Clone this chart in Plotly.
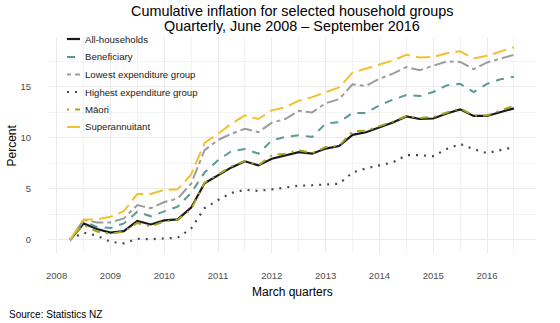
import plotly.graph_objects as go

# Quarterly observations, June 2008 quarter to September 2016 quarter
quarters = [
    "2008Q2", "2008Q3", "2008Q4",
    "2009Q1", "2009Q2", "2009Q3", "2009Q4",
    "2010Q1", "2010Q2", "2010Q3", "2010Q4",
    "2011Q1", "2011Q2", "2011Q3", "2011Q4",
    "2012Q1", "2012Q2", "2012Q3", "2012Q4",
    "2013Q1", "2013Q2", "2013Q3", "2013Q4",
    "2014Q1", "2014Q2", "2014Q3", "2014Q4",
    "2015Q1", "2015Q2", "2015Q3", "2015Q4",
    "2016Q1", "2016Q2", "2016Q3",
]

# Cumulative change since the June 2008 quarter (percent)
all_households = [0.00, 1.60, 1.05, 0.70, 0.85, 1.85, 1.50, 1.90, 2.00, 3.15, 5.55,
                  6.30, 7.10, 7.70, 7.30, 7.95, 8.30, 8.60, 8.45, 8.95, 9.20, 10.30,
                  10.55, 11.05, 11.50, 12.10, 11.85, 11.90, 12.40, 12.80, 12.15, 12.15,
                  12.50, 12.90]
beneficiary = [0.00, 1.80, 1.25, 1.15, 1.60, 2.75, 2.30, 2.80, 3.25, 4.60, 6.60,
               7.80, 8.70, 8.90, 8.45, 9.75, 10.10, 10.25, 10.10, 11.40, 11.55, 12.45,
               12.45, 13.20, 13.75, 14.20, 14.10, 14.50, 15.15, 15.30, 14.50, 15.30,
               15.75, 16.00]
lowest_expenditure = [0.00, 1.95, 1.70, 1.70, 2.10, 3.40, 3.10, 3.70, 4.05, 5.50, 8.80,
                      9.80, 10.40, 10.90, 10.55, 11.50, 11.85, 12.65, 12.50, 13.40, 13.80,
                      15.25, 15.10, 15.80, 16.30, 16.95, 16.65, 17.10, 17.50, 17.45, 16.75,
                      17.40, 17.80, 18.15]
highest_expenditure = [0.00, 0.70, 0.40, -0.20, -0.35, 0.10, 0.05, 0.10, 0.20, 1.10, 3.10,
                       3.90, 4.60, 4.90, 4.80, 4.95, 5.10, 5.30, 5.35, 5.40, 5.50, 6.60,
                       7.00, 7.30, 7.60, 8.30, 8.30, 8.20, 8.90, 9.40, 8.90, 8.50, 8.80,
                       9.10]
maori = [0.00, 1.45, 0.80, 0.60, 0.80, 1.65, 1.30, 1.80, 1.95, 3.00, 5.60,
         6.40, 7.20, 7.75, 7.30, 8.30, 8.45, 8.80, 8.50, 9.10, 9.20, 10.65,
         10.70, 11.15, 11.60, 12.15, 11.95, 12.05, 12.50, 12.90, 12.20, 12.20,
         12.70, 13.15]
superannuitant = [0.00, 2.00, 2.00, 2.25, 2.80, 4.50, 4.50, 4.90, 4.95, 6.40, 9.50,
                  10.40, 11.40, 12.20, 11.85, 12.70, 13.00, 13.65, 14.00, 14.50, 14.95,
                  16.40, 16.80, 17.20, 17.60, 18.15, 17.90, 17.95, 18.30, 18.50, 17.80,
                  18.05, 18.50, 18.90]

year_ticks = [2008, 2009, 2010, 2011, 2012, 2013, 2014, 2015, 2016]
percent_ticks = [0, 5, 10, 15]

series_names = ["All-households", "Beneficiary", "Lowest expenditure group",
                "Highest expenditure group", "M\u0101ori", "Superannuitant"]
series_values = [all_households, beneficiary, lowest_expenditure,
                 highest_expenditure, maori, superannuitant]


def quarter_to_year(q):
    # the March quarter of a year sits on the year's tick
    year, n = q.split("Q")
    return int(year) + (int(n) - 1) / 4


x_years = [quarter_to_year(q) for q in quarters]

styles = [
    dict(color="#1a1a1a", width=2.2, dash="solid"),
    dict(color="#5a9a96", width=2.0, dash="8px,7px"),
    dict(color="#9c9c9c", width=2.0, dash="4px,4px,12px,4px"),
    dict(color="#4a4a4a", width=2.2, dash="2px,6px"),
    dict(color="#a2a31e", width=2.0, dash="2px,6px,8px,6px"),
    dict(color="#f2c12e", width=2.0, dash="14px,6px"),
]

FONT = "Liberation Sans, Arial, Helvetica, sans-serif"
W, H = 560, 323
L, R, T, B = 48, 24, 37, 70
PW, PH = W - L - R, H - T - B


def px_x(x):
    return (x - L) / PW


def px_y(y):
    return (H - B - y) / PH


fig = go.Figure()
for name, vals, st in zip(series_names, series_values, styles):
    fig.add_trace(go.Scatter(
        x=x_years, y=vals, mode="lines", name=name,
        line=dict(color=st["color"], width=st["width"], dash=st["dash"]),
        showlegend=False, hoverinfo="x+y+name",
    ))

grid_major = "#ebebeb"
grid_minor = "#f3f3f3"

fig.update_xaxes(
    range=[2007.84, 2016.91], tickvals=year_ticks, ticktext=[str(y) for y in year_ticks],
    showgrid=True, gridcolor=grid_major, gridwidth=1, zeroline=False, showline=False,
    ticks="outside", ticklen=14, tickcolor="rgba(0,0,0,0)",
    tickfont=dict(family=FONT, size=9.5, color="#4d4d4d"),
    minor=dict(dtick=0.5, tick0=2008, showgrid=True, gridcolor=grid_minor, gridwidth=0.6),
)
fig.update_yaxes(
    range=[-1.3, 19.9], tickvals=percent_ticks, ticktext=[str(v) for v in percent_ticks],
    showgrid=True, gridcolor=grid_major, gridwidth=1, zeroline=False, showline=False,
    ticks="outside", ticklen=14, tickcolor="rgba(0,0,0,0)",
    tickfont=dict(family=FONT, size=9.5, color="#4d4d4d"),
    minor=dict(dtick=2.5, tick0=0, showgrid=True, gridcolor=grid_minor, gridwidth=0.6),
)

annotations = [
    dict(text="Cumulative inflation for selected household groups",
         x=0.5, y=px_y(11.5), font=dict(size=14.4, color="#000000")),
    dict(text="Quarterly, June 2008 \u2013 September 2016",
         x=0.5, y=px_y(25.5), font=dict(size=14.4, color="#000000")),
    dict(text="March quarters", x=0.5, y=px_y(291.5), font=dict(size=12, color="#000000")),
    dict(text="Percent", x=px_x(11), y=px_y(145.5), textangle=-90,
         font=dict(size=12, color="#000000")),
    dict(text="Source: Statistics NZ", x=px_x(7), y=px_y(314.5), xanchor="left",
         font=dict(size=10, color="#000000")),
]

# legend keys and labels inside the panel, top left
shapes = []
legend_rows = [39, 57, 74.5, 92, 109.5, 127]
for name, st, row in zip(series_names, styles, legend_rows):
    shapes.append(dict(type="line", xref="paper", yref="paper",
                       x0=px_x(67), x1=px_x(80), y0=px_y(row), y1=px_y(row),
                       line=dict(color=st["color"], width=st["width"], dash=st["dash"])))
    annotations.append(dict(text=name, x=px_x(83), y=px_y(row), xanchor="left",
                            font=dict(size=9.6, color="#1a1a1a")))

for a in annotations:
    a.setdefault("xref", "paper")
    a.setdefault("yref", "paper")
    a.setdefault("xanchor", "center")
    a.setdefault("yanchor", "middle")
    a["showarrow"] = False
    a["font"]["family"] = FONT

fig.update_layout(
    width=W, height=H,
    margin=dict(l=L, r=R, t=T, b=B, pad=0),
    paper_bgcolor="#ffffff", plot_bgcolor="#ffffff",
    font=dict(family=FONT),
    showlegend=False,
    annotations=annotations,
    shapes=shapes,
)

fig.write_html("out.html")
